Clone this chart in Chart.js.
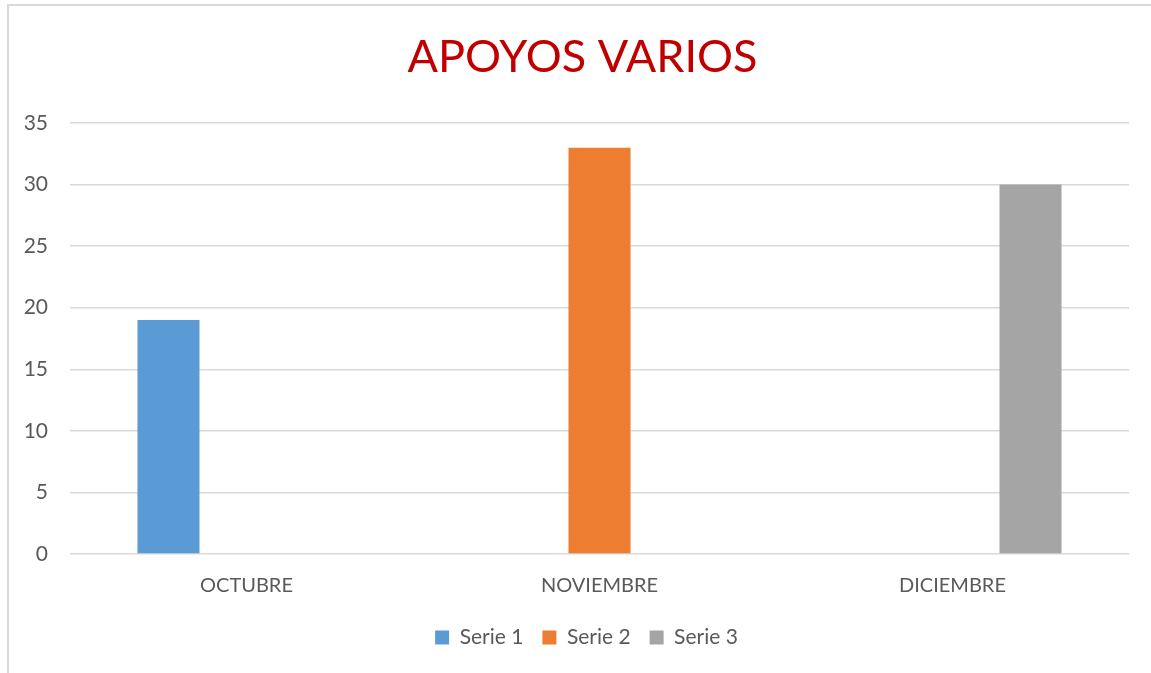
<!DOCTYPE html>
<html>
<head>
<meta charset="utf-8">
<script src="https://cdn.jsdelivr.net/npm/chart.js@4"></script>
<style>
  html, body { margin: 0; padding: 0; background: #ffffff; }
  #wrap { position: relative; width: 1151px; height: 673px; overflow: hidden; }
  #frame { position: absolute; left: 7px; top: 4px; width: 1200px; height: 700px;
           border-left: 2px solid #d9d9d9; border-top: 2px solid #d9d9d9; box-sizing: border-box; }
  canvas { position: absolute; left: 0; top: 0; }
</style>
</head>
<body>
<div id="wrap">
  <div id="frame"></div>
  <canvas id="c" width="1151" height="673"></canvas>
</div>
<script>
const categories = ['OCTUBRE', 'NOVIEMBRE', 'DICIEMBRE'];
const seriesNames = ['Serie 1', 'Serie 2', 'Serie 3'];
const serie1 = [19, null, null];
const serie2 = [null, 33, null];
const serie3 = [null, null, 30];
const yTicks = [0, 5, 10, 15, 20, 25, 30, 35];
const titleText = 'APOYOS VARIOS';

const colors = ['#5B9BD5', '#ED7D31', '#A5A5A5'];
const font = 'Lato, "Open Sans", sans-serif';

const shiftBlocks = {
  id: 'shiftBlocks',
  afterLayout(chart) {
    if (chart.titleBlock) chart.titleBlock.left += 36;
    if (chart.legend) chart.legend.left += 44;
  }
};

new Chart(document.getElementById('c'), {
  type: 'bar',
  data: {
    labels: categories,
    datasets: [serie1, serie2, serie3].map((d, i) => ({
      label: seriesNames[i],
      data: d,
      backgroundColor: colors[i],
      borderWidth: 0,
      categoryPercentage: 0.663,
      barPercentage: 0.795
    }))
  },
  plugins: [shiftBlocks],
  options: {
    responsive: false,
    animation: false,
    devicePixelRatio: 1,
    layout: { padding: { left: 0, right: 22, top: 0, bottom: 15 } },
    plugins: {
      title: {
        display: true,
        text: titleText,
        color: '#C00000',
        font: { family: font, size: 45, weight: 'normal' },
        padding: { top: 30, bottom: 39 }
      },
      legend: {
        position: 'bottom',
        labels: {
          color: '#595959',
          font: { family: font, size: 21 },
          boxWidth: 14,
          boxHeight: 14,
          padding: 19
        }
      },
      tooltip: { enabled: false }
    },
    scales: {
      x: {
        grid: { display: false, drawTicks: false },
        border: { display: false },
        ticks: { color: '#595959', font: { family: font, size: 20 }, padding: 20 },
        afterFit: (s) => { s.height = s.height - 10; }
      },
      y: {
        min: 0,
        max: 35,
        afterBuildTicks: (s) => { s.ticks = yTicks.map(v => ({ value: v })); },
        afterFit: (s) => { s.width = 70; },
        grid: { color: '#d9d9d9', lineWidth: 1.5, drawTicks: false },
        border: { display: false },
        ticks: { color: '#595959', font: { family: font, size: 21 }, padding: 22 }
      }
    }
  }
});
</script>
</body>
</html>
